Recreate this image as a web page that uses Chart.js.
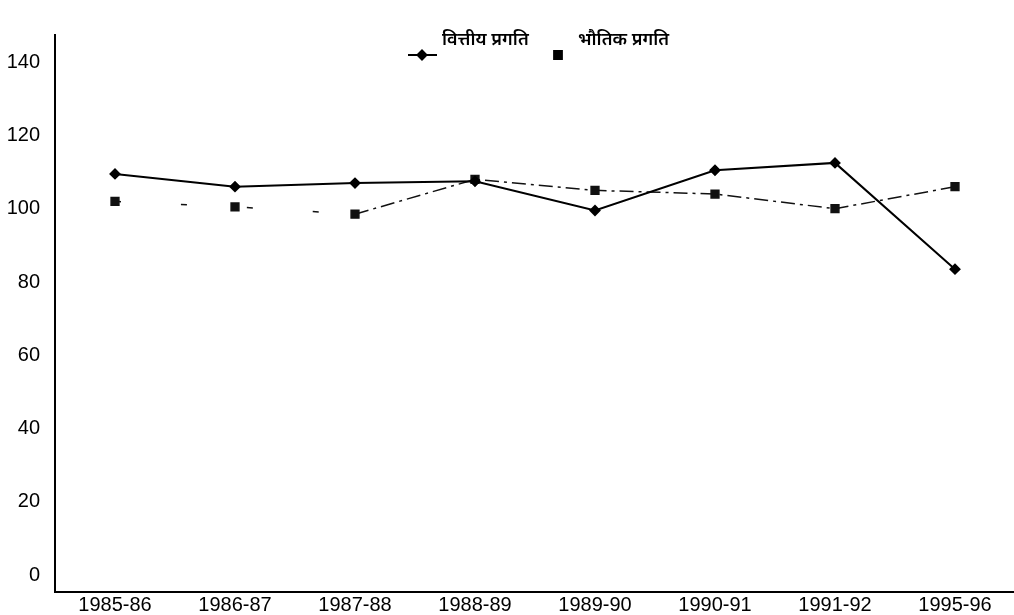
<!DOCTYPE html>
<html lang="hi">
<head>
    <meta charset="UTF-8">
    <title>वित्तीय एवं भौतिक प्रगति</title>
    <script src="https://cdn.jsdelivr.net/npm/chart.js"></script>
    <style>
        body {
            margin: 0;
            padding: 0;
            background: #ffffff;
            overflow: hidden;
        }

        canvas {
            display: block;
        }
    </style>
</head>
<body>
<!-- canvas a touch wider than the window so the x axis runs to the right edge -->
<canvas id="progressChart" width="1022" height="615"></canvas>

<script>
    // data
    const years = ['1985-86', '1986-87', '1987-88', '1988-89', '1989-90', '1990-91', '1991-92', '1995-96'];
    const financialProgress = [109.5, 106, 107, 107.5, 99.5, 110.5, 112.5, 83.5];
    const physicalProgress = [102, 100.5, 98.5, 108, 105, 104, 100, 106];
    const yTicks = [0, 20, 40, 60, 80, 100, 120, 140];
    const seriesNames = ['वित्तीय प्रगति', 'भौतिक प्रगति'];

    const tickFont = { family: '"Liberation Sans", Arial, sans-serif', size: 20 };
    const hindiFont = '600 18px "Noto Sans", "DejaVu Sans", sans-serif';

    // legend sits oddly in the scan: text above, marker below-left
    const scanLegend = {
        id: 'scanLegend',
        afterDraw(chart) {
            const ctx = chart.ctx;
            const spots = [
                { text: [442, 45], mark: [422, 55], line: true },
                { text: [578, 45], mark: [558, 55], line: false }
            ];
            ctx.save();
            ctx.fillStyle = '#000';
            ctx.strokeStyle = '#000';
            ctx.font = hindiFont;
            ctx.textBaseline = 'alphabetic';
            chart.data.datasets.forEach((ds, i) => {
                const s = spots[i];
                ctx.fillText(ds.label, s.text[0], s.text[1]);
                const [mx, my] = s.mark;
                if (s.line) {
                    ctx.lineWidth = 2;
                    ctx.beginPath();
                    ctx.moveTo(mx - 14, my);
                    ctx.lineTo(mx + 15, my);
                    ctx.stroke();
                }
                Chart.helpers.drawPoint(ctx, {
                    pointStyle: ds.pointStyle,
                    radius: ds.pointRadius,
                    borderWidth: 1
                }, mx, my);
            });
            ctx.restore();
        }
    };

    const ctx = document.getElementById('progressChart').getContext('2d');
    new Chart(ctx, {
        type: 'line',
        data: {
            labels: years,
            datasets: [{
                label: seriesNames[0],
                data: financialProgress,
                borderColor: '#000',
                backgroundColor: '#000',
                borderWidth: 2,
                pointStyle: 'rectRot',
                pointRadius: 4.5,
                tension: 0
            }, {
                label: seriesNames[1],
                data: physicalProgress,
                borderColor: '#111',
                backgroundColor: '#111',
                borderWidth: 1.5,
                pointStyle: 'rect',
                pointRadius: 5.5,
                tension: 0,
                segment: {
                    // first two stretches barely survived the scan
                    borderDash: c => c.p0DataIndex < 2 ? [6, 60] : [14, 5, 3, 5]
                }
            }]
        },
        options: {
            responsive: false,
            animation: false,
            layout: { padding: { top: 35, right: 0, left: 0, bottom: 0 } },
            plugins: {
                legend: { display: false },
                tooltip: { enabled: false }
            },
            scales: {
                x: {
                    offset: true,
                    grid: { display: false, drawTicks: false },
                    border: { display: true, color: '#000', width: 2 },
                    ticks: { color: '#000', font: tickFont, padding: 1, maxRotation: 0 },
                    afterFit: scale => {
                        scale.height = 23;
                        scale.paddingLeft = 0;
                        scale.paddingRight = 0;
                    }
                },
                y: {
                    min: -4.6,
                    max: 147.4,
                    grid: { display: false, drawTicks: false },
                    border: { display: true, color: '#000', width: 2 },
                    ticks: { color: '#000', font: tickFont, padding: 15, stepSize: 20 },
                    afterBuildTicks: scale => {
                        scale.ticks = yTicks.map(v => ({ value: v }));
                    },
                    afterFit: scale => {
                        scale.width = 55;
                        scale.paddingTop = 0;
                        scale.paddingBottom = 0;
                    }
                }
            }
        },
        plugins: [scanLegend]
    });
</script>
</body>
</html>
